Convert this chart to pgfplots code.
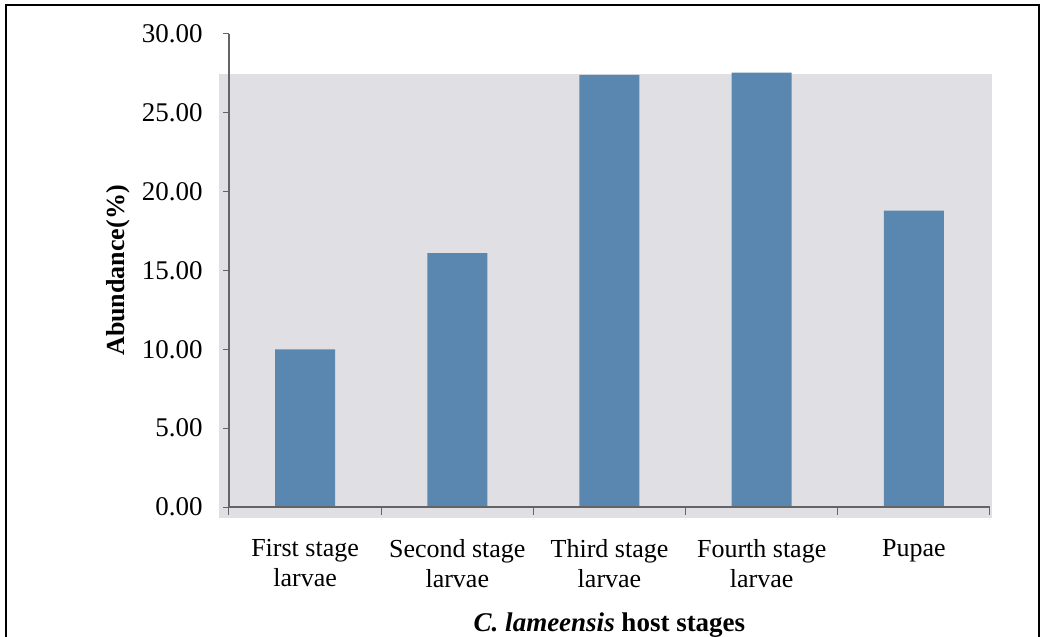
\documentclass[border=0pt]{standalone}
\usepackage{pgfplots}
\pgfplotsset{compat=1.18}
\usepackage{fontspec}
\setmainfont{Liberation Serif}
\newfontfamily\tnr{Liberation Serif}

\definecolor{barblue}{RGB}{90,135,176}
\definecolor{plotgray}{RGB}{224,223,228}
\definecolor{axgray}{RGB}{100,100,100}

\begin{document}
\begin{tikzpicture}
\useasboundingbox (-114.5pt,-65pt) rectangle (407.5pt,253.5pt);
\draw[line width=0.8pt] (-111.5pt,-70pt) rectangle (405pt,251pt);
\begin{axis}[
  at={(0,0)}, anchor=south west,
  scale only axis, width=380.5pt, height=236.5pt,
  xmin=-0.5, xmax=4.5, ymin=0, ymax=30,
  clip=false, axis on top,
  axis x line*=bottom, axis y line*=left,
  axis line style={axgray, line width=0.6pt},
  tick align=outside, major tick length=3pt, minor tick length=4pt,
  xtick={0,1,2,3,4},
  xticklabels={First stage\\larvae, Second stage\\larvae, Third stage\\larvae, Fourth stage\\larvae, Pupae},
  major x tick style={draw=none},
  minor xtick={-0.5,0.5,1.5,2.5,3.5,4.5},
  minor x tick style={draw=axgray, line width=0.5pt},
  xticklabel style={font=\tnr\fontsize{13}{15}\selectfont, align=center, anchor=north, inner sep=0pt, yshift=-13pt},
  ytick={0,5,...,30},
  major y tick style={draw=axgray, line width=0.5pt},
  yticklabel style={font=\tnr\fontsize{13.5}{15}\selectfont, anchor=east, inner sep=0pt, xshift=-10pt,
    /pgf/number format/.cd, fixed, fixed zerofill, precision=2, assume math mode=true},
  xlabel={{\itshape C. lameensis} host stages},
  xlabel style={at={([yshift=-62pt]rel axis cs:0.5,0)}, anchor=base, font=\tnr\fontsize{13.5}{15}\selectfont\bfseries},
  ylabel={Abundance(\%)},
  ylabel style={at={([xshift=-55.5pt]rel axis cs:0,0.5)}, anchor=center, font=\tnr\fontsize{13}{15}\selectfont\bfseries},
]
\fill[plotgray] (axis cs:-0.566,-0.7) rectangle (axis cs:4.51,27.46);
\addplot[ybar, bar width=30pt, fill=barblue, draw=none]
  coordinates {(0,10.0) (1,16.1) (2,27.4) (3,27.55) (4,18.8)};
\end{axis}
\end{tikzpicture}
\end{document}
